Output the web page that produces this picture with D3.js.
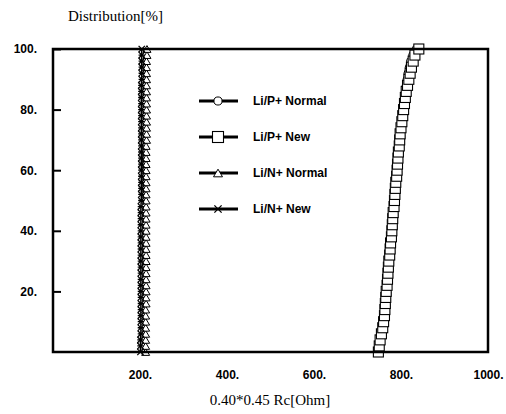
<!DOCTYPE html>
<html>
<head>
<meta charset="utf-8">
<script src="https://cdn.jsdelivr.net/npm/d3@7"></script>
<style>
  body { margin: 0; background: #fff; }
  svg { display: block; }
</style>
</head>
<body>
<div id="chart"></div>
<script>
var width = 506, height = 414;

// cumulative percent of each sample (rank position)
var percent = [0, 2, 4, 6, 8, 10, 12, 14, 16, 18, 20, 22, 24, 26, 28, 30, 32, 34, 36, 38, 40,
  42, 44, 46, 48, 50, 52, 54, 56, 58, 60, 62, 64, 66, 68, 70, 72, 74, 76, 78, 80,
  82, 84, 86, 88, 90, 92, 94, 96, 98, 100];

// Rc values [Ohm]
var pNormal = [745, 748, 750, 753, 756, 758, 760, 762, 763, 764, 765, 767, 768, 769, 770, 771, 773, 774, 775, 777, 778,
  779, 780, 781, 782, 784, 785, 786, 787, 788, 790, 791, 792, 793, 794, 795, 797, 798, 800, 802, 803,
  805, 807, 809, 811, 813, 815, 818, 821, 826, 834];
var pNew = [748, 750, 752, 755, 758, 760, 762, 763, 764, 765, 766, 768, 769, 770, 771, 772, 774, 775, 776, 778, 779,
  780, 781, 782, 784, 785, 786, 787, 788, 790, 791, 792, 793, 794, 796, 797, 798, 800, 802, 804, 806,
  808, 810, 812, 815, 818, 821, 824, 828, 832, 841];
var nNormal = [213, 213, 213, 213, 213, 213, 213, 213, 214, 214, 214, 214, 214, 214, 214, 214, 214, 214, 214, 214, 214,
  214, 214, 214, 214, 214, 214, 214, 214, 214, 214, 214, 214, 214, 214, 215, 215, 215, 215, 215, 215,
  215, 215, 215, 215, 215, 215, 215, 215, 216, 216];
var nNew = [201, 201, 201, 202, 202, 202, 202, 202, 202, 202, 202, 202, 202, 202, 202, 202, 202, 202, 202, 202, 202,
  202, 202, 202, 202, 203, 203, 203, 203, 203, 203, 203, 203, 203, 203, 203, 203, 203, 203, 203, 203,
  203, 203, 203, 203, 204, 204, 204, 204, 204, 204];

var seriesNames = ["Li/P+ Normal", "Li/P+ New", "Li/N+ Normal", "Li/N+ New"];
var seriesValues = [pNormal, pNew, nNormal, nNew];
var seriesSymbols = ["circle", "square", "triangle", "star"];

var xTicks = [200, 400, 600, 800, 1000];
var yTicks = [20, 40, 60, 80, 100];

var padLeft = 53, padRight = 488, padTop = 49, padBottom = 352;

var xScale = d3.scaleLinear().domain([0, 1000]).range([padLeft, padRight]);
var yScale = d3.scaleLinear().domain([0, 100]).range([padBottom, padTop]);

var svg = d3.select("#chart").append("svg")
  .attr("width", width)
  .attr("height", height);

var boldFont = "'Liberation Sans', Arial, sans-serif";
var serifFont = "'Liberation Serif', 'Times New Roman', serif";

// draws one marker shape centred at x, y
function drawMarker(g, kind, x, y, s) {
  if (kind == "circle") {
    g.append("circle").attr("cx", x).attr("cy", y).attr("r", s * 0.45)
      .attr("fill", "white").attr("stroke", "black").attr("stroke-width", 1);
  } else if (kind == "square") {
    g.append("rect").attr("x", x - s / 2).attr("y", y - s / 2)
      .attr("width", s).attr("height", s)
      .attr("fill", "white").attr("stroke", "black").attr("stroke-width", 1.1);
  } else if (kind == "triangle") {
    var h = s * 0.85;
    g.append("path")
      .attr("d", "M" + x + "," + (y - h / 2) + "L" + (x + s / 2) + "," + (y + h / 2) + "L" + (x - s / 2) + "," + (y + h / 2) + "Z")
      .attr("fill", "white").attr("stroke", "black").attr("stroke-width", 1);
  } else {
    var r = s * 0.45;
    g.append("path")
      .attr("d", "M" + (x - r) + "," + (y - r) + "L" + (x + r) + "," + (y + r) +
        "M" + (x - r) + "," + (y + r) + "L" + (x + r) + "," + (y - r) +
        "M" + (x - r) + "," + y + "L" + (x + r) + "," + y)
      .attr("fill", "none").attr("stroke", "black").attr("stroke-width", 1.3);
  }
}

var markerSize = [8, 10, 8, 7];

// series: line then markers
var line = d3.line()
  .x(function(d) { return xScale(d[0]); })
  .y(function(d) { return yScale(d[1]); });

var plot = svg.append("g");
seriesValues.forEach(function(vals, i) {
  var pts = vals.map(function(v, j) { return [v, percent[j]]; });
  plot.append("path")
    .datum(pts)
    .attr("d", line)
    .attr("fill", "none")
    .attr("stroke", "black")
    .attr("stroke-width", 1.5);
  pts.forEach(function(p) {
    drawMarker(plot, seriesSymbols[i], xScale(p[0]), yScale(p[1]), markerSize[i]);
  });
});

// frame
svg.append("rect")
  .attr("x", padLeft).attr("y", padTop)
  .attr("width", padRight - padLeft).attr("height", padBottom - padTop)
  .attr("fill", "none").attr("stroke", "black").attr("stroke-width", 2.5);

// y axis, ticks pointing inward
var yAxis = d3.axisLeft(yScale).tickValues(yTicks).tickSize(-8).tickPadding(16)
  .tickFormat(function(d) { return d + "."; });
var yg = svg.append("g")
  .attr("transform", "translate(" + padLeft + ",0)")
  .call(yAxis);
yg.select(".domain").remove();
yg.selectAll("line").attr("stroke-width", 2);
yg.selectAll("text")
  .style("font-family", boldFont).style("font-size", "12px").style("font-weight", "bold");

// x axis
var xAxis = d3.axisBottom(xScale).tickValues(xTicks).tickSize(0).tickPadding(18)
  .tickFormat(function(d) { return d + "."; });
var xg = svg.append("g")
  .attr("transform", "translate(0," + padBottom + ")")
  .call(xAxis);
xg.select(".domain").remove();
xg.selectAll("text")
  .style("font-family", boldFont).style("font-size", "12px").style("font-weight", "bold");

// titles
svg.append("text")
  .text("Distribution[%]")
  .attr("x", 68).attr("y", 21)
  .style("font-family", serifFont).style("font-size", "15px");

svg.append("text")
  .text("0.40*0.45 Rc[Ohm]")
  .attr("x", 270).attr("y", 405)
  .attr("text-anchor", "middle")
  .style("font-family", serifFont).style("font-size", "15px");

// legend
var legendY = [101, 137, 173, 209];
seriesNames.forEach(function(name, i) {
  var g = svg.append("g");
  g.append("line")
    .attr("x1", 199).attr("x2", 238)
    .attr("y1", legendY[i]).attr("y2", legendY[i])
    .attr("stroke", "black").attr("stroke-width", 3);
  drawMarker(g, seriesSymbols[i], 218, legendY[i], markerSize[i] + 1);
  g.append("text")
    .text(name)
    .attr("x", 253).attr("y", legendY[i]).attr("dy", "0.35em")
    .style("font-family", boldFont).style("font-size", "12px").style("font-weight", "bold");
});
</script>
</body>
</html>
